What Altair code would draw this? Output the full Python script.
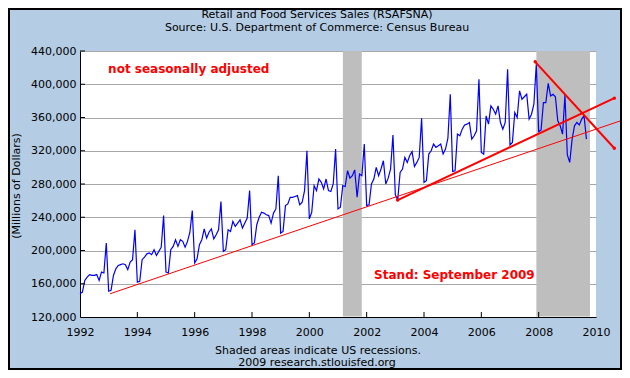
import altair as alt
import pandas as pd

# Monthly retail and food services sales (thousands of millions of dollars)
s1992 = [148, 150, 164, 168, 171, 170, 170, 171, 164, 174, 173, 209]
s1993 = [151, 152, 170, 178, 182, 183, 184, 183, 177, 186, 189, 225]
s1994 = [162, 163, 189, 192, 196, 197, 195, 201, 194, 199, 204, 242]
s1995 = [174, 173, 201, 205, 213, 205, 213, 211, 204, 211, 222, 248]
s1996 = [185, 190, 207, 213, 226, 215, 222, 226, 214, 219, 225, 259]
s1997 = [199, 201, 225, 223, 235, 229, 233, 237, 227, 233, 239, 272]
s1998 = [207, 209, 231, 240, 246, 245, 243, 242, 233, 245, 250, 290]
s1999 = [221, 223, 254, 256, 264, 264, 265, 266, 255, 258, 272, 320]
s2000 = [238, 246, 278, 272, 286, 282, 274, 286, 272, 271, 280, 322]
s2001 = [250, 252, 278, 277, 296, 287, 290, 297, 264, 292, 290, 328]
s2002 = [254, 255, 280, 286, 300, 290, 298, 308, 280, 287, 298, 339]
s2003 = [267, 261, 294, 298, 312, 306, 314, 319, 301, 306, 312, 359]
s2004 = [282, 284, 316, 320, 328, 324, 326, 328, 316, 322, 335, 388]
s2005 = [295, 296, 340, 338, 346, 351, 352, 354, 334, 338, 344, 406]
s2006 = [318, 316, 362, 352, 374, 370, 364, 374, 354, 346, 354, 418]
s2007 = [327, 330, 366, 360, 392, 382, 385, 388, 358, 364, 376, 424]
s2008 = [343, 345, 378, 378, 401, 386, 388, 385, 356, 350, 340, 387]
s2009 = [315, 306, 334, 350, 354, 351, 358, 362, 334]

yearly = [s1992, s1993, s1994, s1995, s1996, s1997, s1998, s1999, s2000,
          s2001, s2002, s2003, s2004, s2005, s2006, s2007, s2008, s2009]

# Recessions (decimal years)
rec_start = [2001.17, 2007.92]
rec_end = [2001.83, 2009.79]

# Hand-drawn trend lines (decimal year, millions of dollars)
trend_id = ["long", "long", "up", "up", "down", "down"]
trend_t = [1993.05, 2011.2, 2003.08, 2010.64, 2007.88, 2010.64]
trend_v = [148000, 360000, 260700, 383300, 427000, 323000]

x_ticks = list(range(1992, 2011, 2))
y_ticks = list(range(120000, 440001, 40000))

title_lines = ["Retail and Food Services Sales (RSAFSNA)",
               "Source: U.S. Department of Commerce: Census Bureau"]
footer_lines = ["Shaded areas indicate US recessions.",
                "2009 research.stlouisfed.org"]
y_title = "(Millions of Dollars)"
note_text = ["not seasonally adjusted", "Stand: September 2009"]
note_t = [1992.98, 2002.26]
note_v = [418000, 171000]

rows = []
for i, vals in enumerate(yearly):
    for m, v in enumerate(vals):
        rows.append({"t": 1992 + i + m / 12.0, "sales": v * 1000})
sales_df = pd.DataFrame(rows)
rec_df = pd.DataFrame({"start": rec_start, "end": rec_end})
trend_df = pd.DataFrame({"id": trend_id, "t": trend_t, "sales": trend_v})
notes_df = pd.DataFrame({"txt": note_text, "t": note_t, "sales": note_v})

W, H = 516, 266
FONT = "DejaVu Sans"

xs = alt.Scale(domain=[1992, 2010], nice=False, zero=False)
ys = alt.Scale(domain=[120000, 440000], nice=False, zero=False)
x_axis = alt.Axis(values=x_ticks, format="d", title=None, grid=False, ticks=False,
                  labelPadding=9, zindex=1, labelFlush=False)
y_axis = alt.Axis(values=y_ticks, format=",d", title=None, grid=True,
                  gridColor="#A8A8A8", ticks=False, labelPadding=4, zindex=0)

X = alt.X("t:Q", scale=xs, axis=x_axis, title=None)
Y = alt.Y("sales:Q", scale=ys, axis=y_axis, title=None)

rec = alt.Chart(rec_df).mark_rect(color="#BEBEBE").encode(
    x=alt.X("start:Q", scale=xs, axis=x_axis, title=None), x2="end:Q",
    y=alt.value(0), y2=alt.value(H - 0.5))

line = alt.Chart(sales_df).mark_line(color="#0000FF", strokeWidth=1.2).encode(x=X, y=Y)

thin = alt.Chart(trend_df).transform_filter(alt.datum.id == "long").mark_line(
    color="#FF0000", strokeWidth=1).encode(x=X, y=Y, detail="id:N")
thick = alt.Chart(trend_df).transform_filter(alt.datum.id != "long").mark_line(
    color="#FF0000", strokeWidth=2).encode(x=X, y=Y, detail="id:N")
ends = alt.Chart(trend_df).transform_filter(alt.datum.id != "long").mark_point(
    color="#FF0000", filled=True, size=12, opacity=1).encode(x=X, y=Y)

notes = alt.Chart(notes_df).mark_text(
    color="#FF0000", font=FONT, fontSize=12, fontWeight="bold", align="left",
    baseline="middle").encode(x=X, y=Y, text="txt:N")

xtick_df = pd.DataFrame({"t": x_ticks[1:-1]})
xtk = alt.Chart(xtick_df).mark_rule(color="black").encode(
    x=X, y=alt.value(H), y2=alt.value(H - 5))
ytick_df = pd.DataFrame({"sales": y_ticks[1:]})
ytk = alt.Chart(ytick_df).mark_rule(color="black").encode(
    y=Y, x=alt.value(0), x2=alt.value(5))


def label(txt, x, y, angle=0):
    return alt.Chart(pd.DataFrame({"txt": [txt]})).mark_text(
        font=FONT, fontSize=11, color="black", align="center", baseline="middle",
        angle=angle).encode(x=alt.value(x), y=alt.value(y), text="txt:N")


t1 = label(title_lines[0], 237, -36)
t2 = label(title_lines[1], 237, -23)
f1 = label(footer_lines[0], 238, 300)
f2 = label(footer_lines[1], 237, 312)
yt = label(y_title, -63, 135, angle=270)

border = alt.Chart(pd.DataFrame({"a": [0]})).mark_rect(
    fill="white", fillOpacity=0, stroke="black", strokeWidth=2).encode(
    x=alt.value(-71), x2=alt.value(W + 25), y=alt.value(-42), y2=alt.value(H + 52))

chart = alt.layer(rec, line, thin, thick, ends, notes, xtk, ytk,
                  t1, t2, f1, f2, yt, border).properties(
    width=W, height=H,
    autosize=alt.AutoSizeParams(type="none"),
    padding={"left": 72, "top": 43, "right": 26, "bottom": 53},
    background="#B4CCE4",
).configure_view(strokeWidth=0, fill="white").configure_axis(
    labelFont=FONT, labelFontSize=11, labelColor="black",
    domainColor="black", domainWidth=1)

chart.save("out.html", embed_options={"renderer": "svg", "actions": False})
